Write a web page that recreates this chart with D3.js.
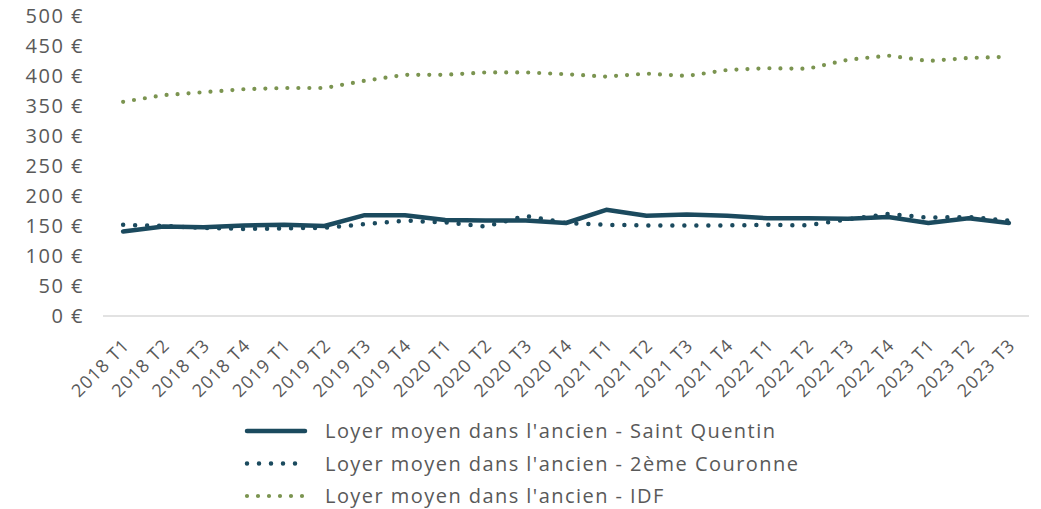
<!DOCTYPE html>
<html lang="fr">
<head>
<meta charset="UTF-8">
<title>Loyer moyen dans l'ancien</title>
<script src="https://cdn.jsdelivr.net/npm/d3@7"></script>
<style>
    body { margin: 0; background: #ffffff; }
    text { font-family: "Open Sans", sans-serif; fill: #595959; }
    .baseline { stroke: #d9d9d9; stroke-width: 1.5; }
</style>
</head>
<body>
<div id="chart"></div>
<script>
    // trimestres
    var quarters = ["2018 T1", "2018 T2", "2018 T3", "2018 T4",
        "2019 T1", "2019 T2", "2019 T3", "2019 T4",
        "2020 T1", "2020 T2", "2020 T3", "2020 T4",
        "2021 T1", "2021 T2", "2021 T3", "2021 T4",
        "2022 T1", "2022 T2", "2022 T3", "2022 T4",
        "2023 T1", "2023 T2", "2023 T3"];

    var saintQuentin = [141, 149, 148, 151, 152, 150, 168, 168, 160, 159, 159, 155,
        177, 167, 169, 167, 163, 163, 162, 165, 155, 163, 155];
    var deuxCouronne = [152, 150, 147, 145, 146, 147, 153, 159, 156, 149, 167, 155,
        152, 151, 151, 151, 152, 151, 161, 170, 164, 165, 159];
    var idf = [357, 368, 373, 378, 380, 380, 392, 402, 402, 406, 406, 403,
        399, 404, 400, 410, 413, 412, 427, 434, 425, 430, 432];

    var yTicks = [0, 50, 100, 150, 200, 250, 300, 350, 400, 450, 500];

    var series = [
        {name: "Loyer moyen dans l'ancien - Saint Quentin", values: saintQuentin, color: "#1b4a5e", dash: null, width: 4.5},
        {name: "Loyer moyen dans l'ancien - 2ème Couronne", values: deuxCouronne, color: "#1b4a5e", dash: "0,12", width: 4.5},
        {name: "Loyer moyen dans l'ancien - IDF", values: idf, color: "#7b9450", dash: "0,11", width: 4.2}
    ];

    var width = 1041, height = 509;
    var margin = {top: 16, right: 12, bottom: 193, left: 103};

    var svg = d3.select("#chart").append("svg")
        .attr("width", width)
        .attr("height", height);

    var x = d3.scaleBand()
        .domain(quarters)
        .range([margin.left, width - margin.right])
        .padding(0);

    var y = d3.scaleLinear()
        .domain([0, 500])
        .range([height - margin.bottom, margin.top]);

    // axe Y
    svg.append("g")
        .selectAll("text")
        .data(yTicks)
        .enter().append("text")
        .attr("x", 84)
        .attr("y", function (d) { return y(d); })
        .attr("dy", "0.36em")
        .attr("text-anchor", "end")
        .style("font-size", "20px")
        .style("letter-spacing", "1.5px")
        .text(function (d) { return d + " €"; });

    svg.append("line")
        .attr("class", "baseline")
        .attr("x1", x.range()[0])
        .attr("x2", x.range()[1])
        .attr("y1", y(0))
        .attr("y2", y(0));

    // axe X
    svg.append("g")
        .selectAll("text")
        .data(quarters)
        .enter().append("text")
        .attr("transform", function (d) {
            return "translate(" + (x(d) + x.bandwidth() / 2 + 3) + "," + (y(0) + 26) + ") rotate(-45)";
        })
        .attr("text-anchor", "end")
        .attr("dy", "0.35em")
        .style("font-size", "18px")
        .style("letter-spacing", "1px")
        .text(function (d) { return d; });

    var line = d3.line()
        .x(function (d, i) { return x(quarters[i]) + x.bandwidth() / 2; })
        .y(function (d) { return y(d); });

    // on dessine IDF, puis 2ème couronne, puis Saint Quentin au dessus
    svg.append("g")
        .selectAll("path")
        .data([series[2], series[1], series[0]])
        .enter().append("path")
        .attr("d", function (s) { return line(s.values); })
        .attr("fill", "none")
        .attr("stroke", function (s) { return s.color; })
        .attr("stroke-width", function (s) { return s.width; })
        .attr("stroke-linecap", "round")
        .attr("stroke-linejoin", "round")
        .attr("stroke-dasharray", function (s) { return s.dash; });

    // légende
    var legend = svg.append("g")
        .selectAll("g")
        .data(series)
        .enter().append("g")
        .attr("transform", function (d, i) { return "translate(247," + (431 + i * 32.5) + ")"; });

    legend.append("line")
        .attr("x1", 0)
        .attr("x2", 58)
        .attr("y1", 0)
        .attr("y2", 0)
        .attr("stroke", function (s) { return s.color; })
        .attr("stroke-width", function (s) { return s.width; })
        .attr("stroke-linecap", "round")
        .attr("stroke-dasharray", function (s) { return s.dash; });

    legend.append("text")
        .attr("x", 78)
        .attr("y", 0)
        .attr("dy", "0.36em")
        .style("font-size", "20px")
        .style("letter-spacing", "1.45px")
        .text(function (s) { return s.name; });
</script>
</body>
</html>
